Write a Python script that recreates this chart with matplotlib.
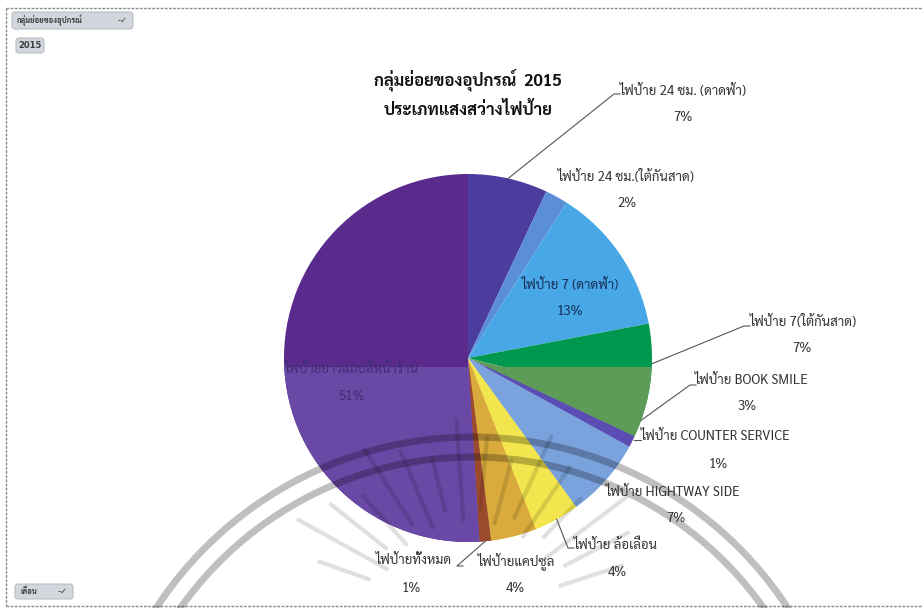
import numpy as np
import matplotlib
matplotlib.use("Agg")
import matplotlib.pyplot as plt
from matplotlib.patches import Rectangle, FancyBboxPatch, Arc

# sign lighting sub-groups, 2015
names = ['ไฟป้าย 24 ชม. (ดาดฟ้า)', 'ไฟป้าย 24 ชม.(ใต้กันสาด)', 'ไฟป้าย 7 (ดาดฟ้า)',
         'ไฟป้าย 7(ใต้กันสาด)', 'ไฟป้าย BOOK SMILE', 'ไฟป้าย COUNTER SERVICE',
         'ไฟป้าย HIGHTWAY SIDE', 'ไฟป้าย ล้อเลื่อน', 'ไฟป้ายแคปซูล', 'ไฟป้ายทั้งหมด',
         'ไฟป้ายยาวแถบสีหน้าร้าน']
values = [7, 2, 13, 7, 3, 1, 7, 4, 4, 1, 51]

title1 = 'กลุ่มย่อยของอุปกรณ์  2015'
title2 = 'ประเภทแสงสว่างไฟป้าย'

colors = ['#4b3c9e', '#5a8fd8', '#48a7e6', '#00984e', '#5c9b58', '#5b4db3',
          '#7aa2dc', '#f2e54e', '#d9aa3c', '#9b4a2e', '#5a2b8c']
# lower part of the pie is washed out by the seal printed over it
colors_low = ['#4b3c9e', '#5a8fd8', '#48a7e6', '#5c9b58', '#5c9b58', '#5b4db3',
              '#7aa2dc', '#f2e54e', '#d9aa3c', '#9b4a2e', '#6a48a6']

thai = ['Sarabun', 'DejaVu Sans']
W, H = 922, 608
CX, CY, R = 468, 358, 184
PAD = 1.05


def d(px, py):
    # pixel position -> pie data coords
    return (px - CX) / R, (CY - py) / R


def edge(i):
    # point on the rim in the middle of slice i
    start = sum(values[:i])
    a = np.radians(360 * (start + values[i] / 2) / sum(values))
    return np.sin(a), np.cos(a)


fig = plt.figure(figsize=(W / 100, H / 100), dpi=100)

# background layer: frame and pivot buttons
bg = fig.add_axes([0, 0, 1, 1], zorder=0)
bg.set_xlim(0, W)
bg.set_ylim(H, 0)
bg.axis('off')
dash = (0, (2, 1))
bg.plot([6, W], [8, 8], color='#8a8a8a', lw=1, ls=dash)
bg.plot([6, 6], [8, 606], color='#8a8a8a', lw=1, ls=dash)
bg.plot([6, W], [606, 606], color='#8a8a8a', lw=1, ls=dash)

for (x, y, w, h, txt, icon) in [(12, 12, 121, 17, 'กลุ่มย่อยของอุปกรณ์', True),
                                (16, 38, 28, 15, '2015', False),
                                (15, 584, 58, 15, 'เดือน', True)]:
    bg.add_patch(FancyBboxPatch((x, y), w, h, boxstyle='round,pad=0,rounding_size=3',
                                fc='#d2d7dd', ec='#b9bec5', lw=0.8))
    if icon:
        bg.text(x + 5, y + h / 2, txt, fontsize=5.5, fontweight='bold', color='#3a3a3a',
                va='center', ha='left', family=thai)
        bg.text(x + w - 10, y + h / 2, '-✓', fontsize=6, color='#333333',
                va='center', ha='center', family=['DejaVu Sans'])
    else:
        bg.text(x + w / 2, y + h / 2, txt, fontsize=6, fontweight='bold', color='#3a3a3a',
                va='center', ha='center', family=['DejaVu Sans'])

# pie layer
ax = fig.add_axes([(CX - PAD * R) / W, (H - CY - PAD * R) / H,
                   2 * PAD * R / W, 2 * PAD * R / H], zorder=1)
ax.patch.set_alpha(0)
wedges, _ = ax.pie(values, colors=colors, startangle=90, counterclock=False,
                   radius=1, wedgeprops=dict(linewidth=0))
low, _ = ax.pie(values, colors=colors_low, startangle=90, counterclock=False,
                radius=1, wedgeprops=dict(linewidth=0))
cut = Rectangle((-1.2, -1.2), 2.4, 1.2 + d(0, 367)[1], transform=ax.transData)
for wdg in low:
    wdg.set_clip_on(True)
    wdg.set_clip_path(cut)
ax.set_aspect('auto')
ax.set_xlim(-PAD, PAD)
ax.set_ylim(-PAD, PAD)
ax.axis('off')

# seal printed across the lower half
sx, sy = d(472, 814)
for rad in (377, 357):
    ax.add_patch(Arc((sx, sy), 2 * rad / R, 2 * rad / R, theta1=20, theta2=160,
                     color='black', alpha=0.25, lw=5, clip_on=False, zorder=3))
rx, ry = d(470, 615)
for k, ang in enumerate(np.arange(18, 165, 9.5)):
    a = np.radians(ang)
    r0 = (95 + 12 * (k % 2)) / R
    r1 = (160 + 18 * (k % 3)) / R
    ax.plot([rx + r0 * np.cos(a), rx + r1 * np.cos(a)],
            [ry + r0 * np.sin(a), ry + r1 * np.sin(a)],
            color='black', alpha=0.12, lw=3, solid_capstyle='round',
            clip_on=False, zorder=3)

# titles
ax.text(*d(468, 80), title1, fontsize=12, fontweight='bold', ha='center', va='center',
        color='#111111', family=thai, zorder=5)
ax.text(*d(468, 111), title2, fontsize=12, fontweight='bold', ha='center', va='center',
        color='#111111', family=thai, zorder=5)

# label anchors (left edge of name, centre of name line, centre of percent)
labels = [
    (620, 91, 683, 'left', '#333333', (614, 94)),
    (558, 177, 627, 'left', '#333333', None),
    (570, 285, 570, 'center', '#17305a', None),
    (750, 322, 802, 'left', '#333333', (744, 326)),
    (695, 380, 747, 'left', '#333333', (690, 385)),
    (641, 437, 718, 'left', '#333333', (635, 440)),
    (606, 492, 676, 'left', '#333333', None),
    (574, 545, 617, 'left', '#333333', (568, 548)),
    (517, 561, 515, 'center', '#333333', None),
    (452, 561, 411, 'right', '#333333', (457, 566)),
    (352, 369, 352, 'center', '#3e2f72', None),
]
for i, (lx, ly, px, ha, col, lead) in enumerate(labels):
    ax.text(*d(lx, ly), names[i], fontsize=9.5, ha=ha, va='center', color=col,
            family=thai, zorder=5)
    ax.text(*d(px, ly + 27), f'{values[i]}%', fontsize=9.5, ha='center', va='center',
            color=col, family=thai, zorder=5)
    if lead is not None:
        ex, ey = edge(i)
        tx, ty = d(*lead)
        if i == 5:
            ex, ey = tx - 0.005, ty
        ax.plot([ex, tx, tx + 6 / R], [ey, ty, ty], color='#555555', lw=0.8,
                clip_on=False, zorder=4)

fig.savefig('out.png', dpi=100)
